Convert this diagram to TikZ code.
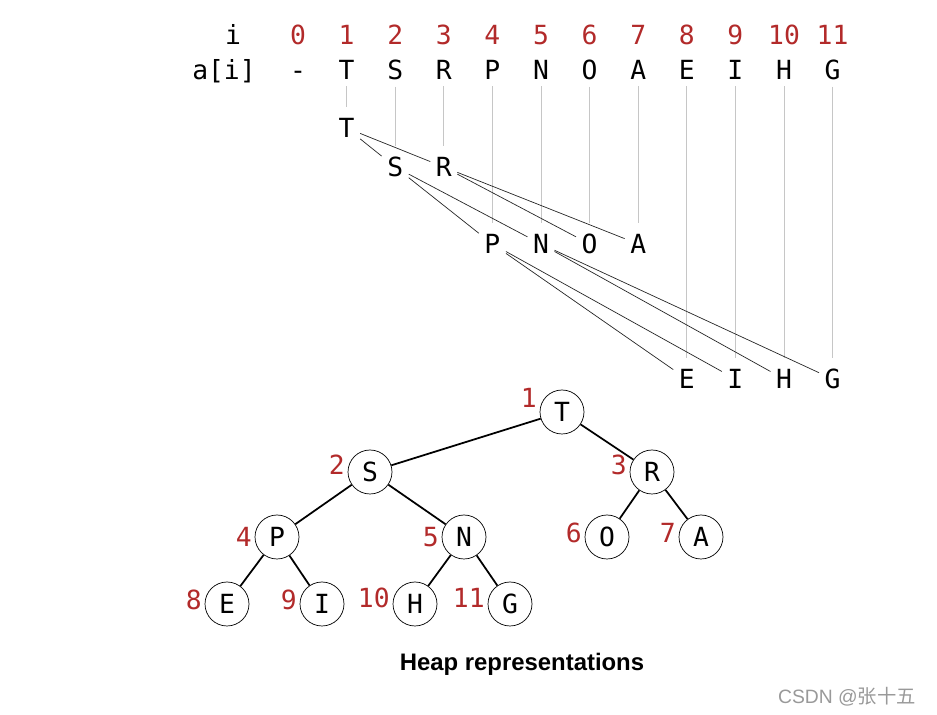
\documentclass[tikz,border=0pt]{standalone}
\usepackage{fontspec}
\newfontfamily\monofont{DejaVu Sans Mono}
\newfontfamily\capfont{Liberation Sans}
\newfontfamily\cjkfont{Noto Sans CJK SC}
\definecolor{idxred}{RGB}{178,42,42}
\begin{document}
\begin{tikzpicture}[x=0.02cm, y=-0.02cm, font=\monofont\fontsize{15}{18}\selectfont]
	\useasboundingbox (0,0) rectangle (937,715);
	\node[anchor=base] (ihead) at (233,45) {i};
	\node[anchor=base] (ahead) at (224,80) {a[i]};
	\foreach \k / \ch in {0/-, 1/T, 2/S, 3/R, 4/P, 5/N, 6/O, 7/A, 8/E, 9/I, 10/H, 11/G} {
		\node[idxred, anchor=base] (idx\k) at (298+48.6*\k, 45) {\k};
		\node[anchor=base] (arr\k) at (298+48.6*\k, 80) {\ch};
	}
	\foreach \k / \ch / \y in {1/T/128, 2/S/167, 3/R/167, 4/P/244, 5/N/244, 6/O/244, 7/A/244, 8/E/379, 9/I/379, 10/H/379, 11/G/379} {
		\node[inner sep=3pt] (t\k) at (298+48.6*\k, \y) {\ch};
		\draw[gray!45, shorten >=3pt] (arr\k.south) -- (t\k.north);
	}
	\foreach \p / \c in {1/2, 1/3, 2/4, 2/5, 3/6, 3/7, 4/8, 4/9, 5/10, 5/11} {
		\draw[black!85] (t\p) -- (t\c);
	}
	\foreach \k / \ch / \x / \y / \d in {1/T/562/412/-14, 2/S/370/472/-7, 3/R/652/472/-7, 4/P/277/537/0, 5/N/464/537/0, 6/O/607/537/-4, 7/A/701/537/-4, 8/E/227/604/-4, 9/I/322/604/-4, 10/H/415/604/-6, 11/G/510/604/-6} {
		\node[circle, draw, thin, minimum size=0.88cm, inner sep=0pt, fill=white] (h\k) at (\x,\y) {\ch};
		\node[idxred, anchor=east, inner sep=0pt] (n\k) at (\x-25, \y+\d) {\k};
	}
	\foreach \p / \c in {1/2, 1/3, 2/4, 2/5, 3/6, 3/7, 4/8, 4/9, 5/10, 5/11} {
		\draw[line width=1pt] (h\p) -- (h\c);
	}
	\node[font=\capfont\bfseries\fontsize{13.6}{15}\selectfont] (caption) at (522,664) {Heap representations};
	\node[anchor=east, gray!80, font=\capfont\fontsize{11}{13}\selectfont] (mark) at (922,697) {CSDN @{\cjkfont 张十五}};
\end{tikzpicture}
\end{document}
